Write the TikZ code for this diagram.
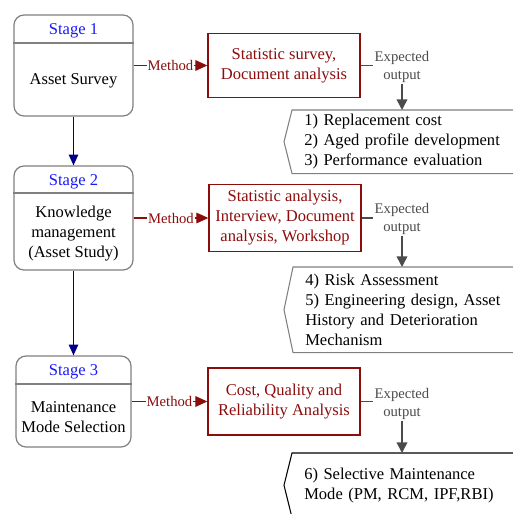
\documentclass[tikz,border=0pt]{standalone}
\usepackage{fontspec}
\setmainfont{Liberation Serif}
\usetikzlibrary{arrows.meta}

\definecolor{stageblue}{RGB}{25,25,250}
\definecolor{methodred}{RGB}{140,12,12}
\definecolor{arrownavy}{RGB}{0,0,135}
\definecolor{boxgray}{RGB}{128,128,128}
\definecolor{expectgray}{RGB}{75,75,75}

\begin{document}
\begin{tikzpicture}[x=0.75pt,y=0.75pt,yscale=-1,xscale=1,
  stagebox/.style={draw=boxgray, line width=0.9pt, rounded corners=7.5pt, minimum width=89.25pt, inner sep=0pt},
  stagetitle/.style={text=stageblue, font=\fontsize{12.4}{15}\selectfont, inner sep=0.75pt},
  stagetext/.style={align=center, font=\fontsize{12.4}{15}\selectfont, inner sep=0.75pt},
  methodbox/.style={draw=methodred, line width=1pt, text=methodred, align=center, font=\fontsize{12.4}{15}\selectfont, minimum width=114pt, minimum height=48pt, inner sep=0pt},
  methodlabel/.style={fill=white, text=methodred, font=\fontsize{11}{13.5}\selectfont, inner sep=0.6pt},
  methodarrow/.style={draw=methodred, line width=0.9pt, -{Triangle[length=9pt,width=8pt]}},
  stagearrow/.style={draw=arrownavy, line width=1pt, -{Triangle[length=8pt,width=7pt]}},
  expectlabel/.style={text=expectgray, align=center, font=\fontsize{11}{13.5}\selectfont, inner sep=0.75pt},
  expectline/.style={draw=expectgray, line width=0.8pt},
  expectarrow/.style={draw=expectgray, line width=1.2pt, -{Triangle[length=8pt,width=8pt]}},
  outputtext/.style={anchor=north west, inner xsep=9pt, inner ysep=0pt, text width=170pt, align=left, font=\fontsize{12.4}{15}\selectfont},
  outline/.style={draw=boxgray, line width=0.8pt, line join=miter}
]
\useasboundingbox (0,0) rectangle (513,514);

%Stage boxes
\node[stagebox, minimum height=75.75pt] (s1) at (73.5,65.5) {};
\node[stagebox, minimum height=78pt] (s2) at (73.5,218) {};
\node[stagebox, minimum height=68.25pt, minimum width=86.25pt] (s3) at (73.5,401.5) {};
\draw[boxgray, line width=0.9pt] (s1.west |- 0,43) -- (s1.east |- 0,43) ;
\draw[boxgray, line width=0.9pt] (s2.west |- 0,193) -- (s2.east |- 0,193) ;
\draw[boxgray, line width=0.9pt] (s3.west |- 0,384) -- (s3.east |- 0,384) ;

% Text Node
\node[stagetitle] (t1) at (73.5,31) {Stage 1};
\node[stagetitle] (t2) at (73.5,181.5) {Stage 2};
\node[stagetitle] (t3) at (73.5,372) {Stage 3};
\node[stagetext] (b1) at (73.5,80.5) {Asset Survey};
\node[stagetext] (b2) at (73.5,233.5) {Knowledge\\management\\(Asset Study)};
\node[stagetext] (b3) at (73.5,417) {Maintenance\\Mode Selection};

%Method boxes
\node[methodbox] (m1) at (284,65.5) {Statistic survey,\\Document analysis};
\node[methodbox, minimum height=50.25pt] (m2) at (285,218) {Statistic analysis,\\Interview, Document\\analysis, Workshop};
\node[methodbox, minimum height=50.25pt] (m3) at (284,401.5) {Cost, Quality and\\Reliability Analysis};

% Text Node
\node[expectlabel] (e1) at (402,67) {Expected\\output};
\node[expectlabel] (e2) at (402,219) {Expected\\output};
\node[expectlabel] (e3) at (402,404) {Expected\\output};

%Output boxes
\node[outputtext, minimum height=47.25pt] (o1) at (292,110) {1) Replacement cost\\2) Aged profile development\\3) Performance evaluation};
\node[outputtext, minimum height=63.75pt] (o2) at (293,267) {4) Risk Assessment\\5) Engineering design, Asset\\History and Deterioration\\Mechanism};
\node[outputtext, minimum height=48pt] (o3) at (292,453) {6) Selective Maintenance\\Mode (PM, RCM, IPF,RBI)};
\draw[outline] (o1.north east) -- (o1.north west) -- ([xshift=-6pt]o1.west) -- (o1.south west) -- (o1.south east) ;
\draw[outline] (o2.north east) -- (o2.north west) -- ([xshift=-6.75pt]o2.west) -- (o2.south west) -- (o2.south east) ;
\draw[outline, draw=black] (o3.north east) -- (o3.north west) -- ([xshift=-6pt]o3.west) -- (o3.south west) -- (o3.south east) ;

%Straight Lines
\draw[stagearrow] (s1.south) -- (s2.north) ;
\draw[stagearrow] (s2.south) -- (s3.north) ;
\draw[methodarrow] (s1.east) -- (s1.east -| m1.west) node[methodlabel, midway] {Method} ;
\draw[methodarrow] (s2.east) -- (s2.east -| m2.west) node[methodlabel, midway] {Method} ;
\draw[methodarrow] (s3.east) -- (s3.east -| m3.west) node[methodlabel, midway] {Method} ;
\draw[expectline] (m1.east) -- (m1.east -| e1.west) ;
\draw[expectline] (m2.east) -- (m2.east -| e2.west) ;
\draw[expectline] (m3.east) -- (m3.east -| e3.west) ;
\draw[expectarrow] (e1.south) -- (e1.south |- o1.north) ;
\draw[expectarrow] (e2.south) -- (e2.south |- o2.north) ;
\draw[expectarrow] (e3.south) -- (e3.south |- o3.north) ;

\end{tikzpicture}
\end{document}
